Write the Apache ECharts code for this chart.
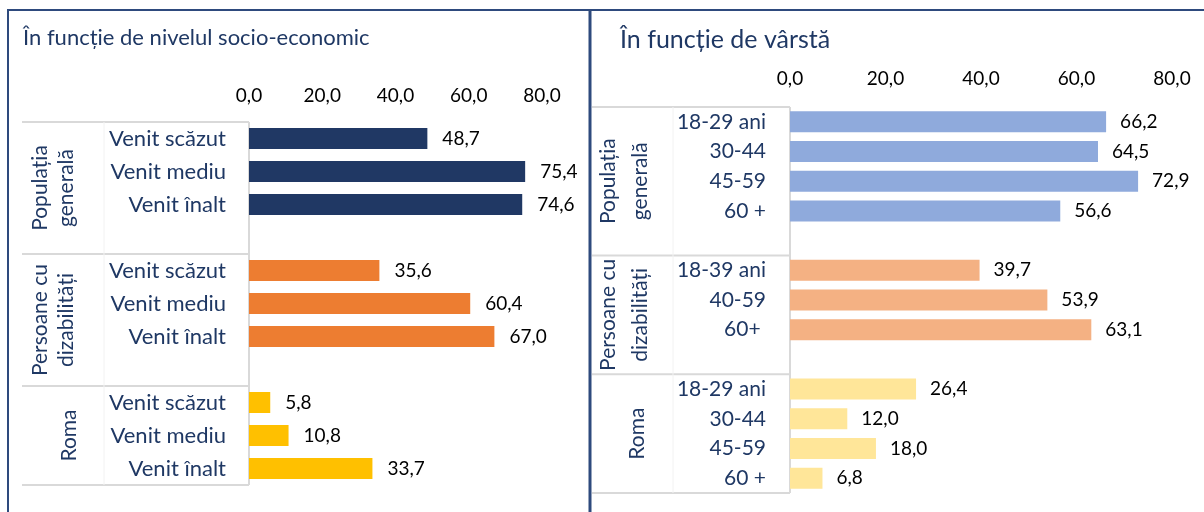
<!DOCTYPE html>
<html>
<head>
<meta charset="utf-8">
<script src="https://cdn.jsdelivr.net/npm/echarts@6/dist/echarts.min.js"></script>
<style>
html,body{margin:0;padding:0;background:#fff;}
#c{width:1204px;height:512px;}
</style>
</head>
<body>
<div id="c"></div>
<script>
// ---- data ----
const titleLeft = 'În funcție de nivelul socio-economic';
const titleRight = 'În funcție de vârstă';
const groupsLeft = ['Populația\ngenerală', 'Persoane cu\ndizabilități', 'Roma'];
const groupsRight = ['Populația\ngenerală', 'Persoane cu\ndizabilități', 'Roma'];
const catsSocio = ['Venit scăzut', 'Venit mediu', 'Venit înalt'];
const catsAgePop = ['18-29 ani', '30-44', '45-59', '60 +'];
const catsAgeDis = ['18-39 ani', '40-59', '60+ '];
const catsAgeRoma = ['18-29 ani', '30-44', '45-59', '60 +'];
const socioPop = [48.7, 75.4, 74.6];
const socioDis = [35.6, 60.4, 67.0];
const socioRoma = [5.8, 10.8, 33.7];
const agePop = [66.2, 64.5, 72.9, 56.6];
const ageDis = [39.7, 53.9, 63.1];
const ageRoma = [26.4, 12.0, 18.0, 6.8];
const xTicks = [0, 20, 40, 60, 80];

// ---- styles ----
const colorsLeft = ['#203864', '#ED7D31', '#FFC000'];
const colorsRight = ['#8FAADC', '#F4B183', '#FFE699'];
const NAVY = '#1F3864';
const FONT = 'Lato, "Open Sans", sans-serif';

function buildPanel(groupCats, groupVals, colors) {
  const cats = [], data = [], groupRanges = [];
  groupCats.forEach((gc, gi) => {
    const start = cats.length;
    gc.forEach((c, i) => {
      cats.push(c);
      data.push({ value: groupVals[gi][i], itemStyle: { color: colors[gi] } });
    });
    groupRanges.push([start, cats.length]);
    if (gi < groupCats.length - 1) { cats.push(''); data.push('-'); }
  });
  return { cats, data, groupRanges };
}
const L = buildPanel([catsSocio, catsSocio, catsSocio], [socioPop, socioDis, socioRoma], colorsLeft);
const R = buildPanel([catsAgePop, catsAgeDis, catsAgeRoma], [agePop, ageDis, ageRoma], colorsRight);

const GL = { left: 249, top: 122, width: 293, height: 363 };
const GR = { left: 790, top: 107, width: 382, height: 386 };

const fmt = v => Number(v).toFixed(1).replace('.', ',');

function tableGraphics(G, n, ranges, groups, tableLeft, midX, grpX, grpLine, grpFont, singleX) {
  const rh = G.height / n;
  const out = [];
  const lineStyle = { stroke: '#d9d9d9', lineWidth: 2 };
  const ys = [G.top];
  ranges.forEach((r, i) => {
    const end = (i < ranges.length - 1) ? r[1] + 1 : r[1];
    ys.push(G.top + end * rh);
  });
  ys.forEach(y => out.push({ type: 'line', shape: { x1: tableLeft, y1: y, x2: G.left, y2: y }, style: lineStyle, silent: true }));
  out.push({ type: 'line', shape: { x1: G.left, y1: G.top, x2: G.left, y2: G.top + G.height }, style: lineStyle, silent: true });
  out.push({ type: 'line', shape: { x1: midX, y1: G.top, x2: midX, y2: G.top + G.height }, style: { stroke: '#f2f2f2', lineWidth: 1 }, silent: true });
  groups.forEach((g, i) => {
    const cy = (ys[i] + ys[i + 1]) / 2;
    const single = g.indexOf('\n') < 0;
    out.push({
      type: 'text', x: single ? singleX : grpX, y: cy, rotation: Math.PI / 2,
      style: { text: g, font: grpFont + 'px ' + FONT, fill: NAVY, align: 'center', verticalAlign: 'middle', lineHeight: grpLine },
      silent: true
    });
  });
  return out;
}

const graphics = [
  // frames
  { type: 'polyline', shape: { points: [[8, 512], [8, 10], [1204, 10]] }, style: { stroke: '#2E4A7D', lineWidth: 2, fill: null }, silent: true },
  { type: 'line', shape: { x1: 590, y1: 10, x2: 590, y2: 512 }, style: { stroke: '#2E4A7D', lineWidth: 3 }, silent: true },
  { type: 'text', x: 23, y: 38, style: { text: titleLeft, font: '22px ' + FONT, fill: NAVY, verticalAlign: 'middle' }, silent: true },
  { type: 'text', x: 620, y: 40, style: { text: titleRight, font: '25px ' + FONT, fill: NAVY, verticalAlign: 'middle' }, silent: true }
].concat(
  tableGraphics(GL, L.cats.length, L.groupRanges, groupsLeft, 22, 104, 53, 26, 21, 69),
  tableGraphics(GR, R.cats.length, R.groupRanges, groupsRight, 592, 673, 624, 32, 21, 637)
);

const axisLabelStyle = { color: '#000', fontSize: 19, fontFamily: FONT, formatter: fmt };

const option = {
  animation: false,
  backgroundColor: '#fff',
  grid: [
    Object.assign({ containLabel: false }, GL),
    Object.assign({ containLabel: false }, GR)
  ],
  xAxis: [
    { gridIndex: 0, type: 'value', position: 'top', min: xTicks[0], max: xTicks[xTicks.length - 1], interval: 20,
      axisLine: { show: false }, axisTick: { show: false }, splitLine: { show: false },
      axisLabel: Object.assign({ margin: 17 }, axisLabelStyle) },
    { gridIndex: 1, type: 'value', position: 'top', min: xTicks[0], max: xTicks[xTicks.length - 1], interval: 20,
      axisLine: { show: false }, axisTick: { show: false }, splitLine: { show: false },
      axisLabel: Object.assign({ margin: 19 }, axisLabelStyle) }
  ],
  yAxis: [
    { gridIndex: 0, type: 'category', inverse: true, data: L.cats,
      axisLine: { show: false }, axisTick: { show: false },
      axisLabel: { color: NAVY, fontSize: 22, fontFamily: FONT, margin: 23, interval: 0 } },
    { gridIndex: 1, type: 'category', inverse: true, data: R.cats,
      axisLine: { show: false }, axisTick: { show: false },
      axisLabel: { color: NAVY, fontSize: 21, fontFamily: FONT, margin: 24, interval: 0 } }
  ],
  series: [
    { type: 'bar', xAxisIndex: 0, yAxisIndex: 0, data: L.data, barWidth: 21,
      label: { show: true, position: 'right', distance: 15, color: '#000', fontSize: 19, fontFamily: FONT, formatter: p => fmt(p.value) } },
    { type: 'bar', xAxisIndex: 1, yAxisIndex: 1, data: R.data, barWidth: 21,
      label: { show: true, position: 'right', distance: 14, color: '#000', fontSize: 19, fontFamily: FONT, formatter: p => fmt(p.value) } }
  ],
  graphic: graphics
};

const chart = echarts.init(document.getElementById('c'), null, { renderer: 'canvas' });
chart.setOption(option);
</script>
</body>
</html>
